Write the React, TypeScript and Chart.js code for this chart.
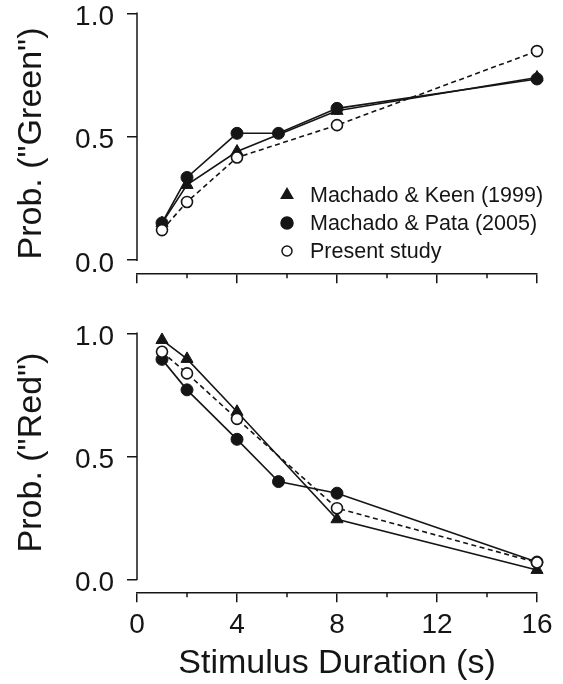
import React, { useEffect, useRef } from "react";
import { Chart, registerables } from "chart.js";

Chart.register(...registerables);

// ---------- data ----------
const seriesLabels = ["Machado & Keen (1999)", "Machado & Pata (2005)", "Present study"];

const keenDurations = [1, 2, 4, 8, 16];
const pataDurations = [1, 2, 4, 5.66, 8, 16];
const presentDurations = [1, 2, 4, 8, 16];

const greenKeen = [0.15, 0.305, 0.44, 0.605, 0.74];
const greenPata = [0.151, 0.335, 0.514, 0.514, 0.615, 0.734];
const greenPresent = [0.122, 0.236, 0.416, 0.547, 0.847];

const redKeen = [0.973, 0.896, 0.681, 0.244, 0.038];
const redPata = [0.894, 0.77, 0.569, 0.397, 0.35, 0.07];
const redPresent = [0.925, 0.837, 0.652, 0.289, 0.068];

const xMajorTicks = [0, 4, 8, 12, 16];
const xMinorTicks = [2, 6, 10, 14];
const yTicks = [0, 0.5, 1];

const xTitle = "Stimulus Duration (s)";
const greenTitle = 'Prob. ("Green")';
const redTitle = 'Prob. ("Red")';

// ---------- style ----------
const INK = "#151515";
const FONT = "'Liberation Sans', Arial, Helvetica, sans-serif";

function pts(xs: number[], ys: number[]) {
  return xs.map((x, i) => ({ x, y: ys[i] }));
}

function makeDatasets(keen: number[], pata: number[], present: number[]) {
  return [
    {
      label: seriesLabels[0],
      data: pts(keenDurations, keen),
      borderColor: INK,
      borderWidth: 1.6,
      pointStyle: "triangle",
      pointRadius: 7,
      pointBackgroundColor: INK,
      pointBorderColor: INK,
      pointBorderWidth: 1,
      order: 2,
      clip: false,
      tension: 0,
    },
    {
      label: seriesLabels[1],
      data: pts(pataDurations, pata),
      borderColor: INK,
      borderWidth: 1.6,
      pointStyle: "circle",
      pointRadius: 6,
      pointBackgroundColor: INK,
      pointBorderColor: INK,
      pointBorderWidth: 1,
      order: 1,
      clip: false,
      tension: 0,
    },
    {
      label: seriesLabels[2],
      data: pts(presentDurations, present),
      borderColor: INK,
      borderWidth: 1.6,
      borderDash: [5, 3.5],
      pointStyle: "circle",
      pointRadius: 5.5,
      pointBackgroundColor: "#ffffff",
      pointBorderColor: INK,
      pointBorderWidth: 1.6,
      order: 0,
      clip: false,
      tension: 0,
    },
  ];
}

const decorPlugin = {
  id: "panelDecor",
  afterDraw(chart: any, _args: any, opts: any) {
    const { ctx, chartArea, scales } = chart;
    const xs = scales.x;
    const ys = scales.y;
    ctx.save();
    ctx.strokeStyle = INK;
    ctx.fillStyle = INK;
    ctx.lineWidth = 1.5;
    ctx.setLineDash([]);

    // detached y axis line from first to last tick
    ctx.beginPath();
    ctx.moveTo(chartArea.left, ys.getPixelForValue(yTicks[yTicks.length - 1]) - 0.75);
    ctx.lineTo(chartArea.left, ys.getPixelForValue(yTicks[0]) + 0.75);
    ctx.stroke();

    // minor x ticks
    for (const v of xMinorTicks) {
      const px = xs.getPixelForValue(v);
      ctx.beginPath();
      ctx.moveTo(px, xs.top);
      ctx.lineTo(px, xs.top + 5);
      ctx.stroke();
    }

    // y title
    ctx.save();
    ctx.translate(opts.titleX, opts.titleY);
    ctx.rotate(-Math.PI / 2);
    ctx.font = `34px ${FONT}`;
    ctx.textAlign = "center";
    ctx.textBaseline = "middle";
    ctx.fillText(opts.title, 0, 0);
    ctx.restore();

    // legend
    if (opts.legend) {
      ctx.font = `21.5px ${FONT}`;
      ctx.textAlign = "left";
      ctx.textBaseline = "middle";
      chart.data.datasets.forEach((ds: any, i: number) => {
        const cy = opts.legendY + i * opts.legendRow;
        const cx = opts.legendX;
        ctx.beginPath();
        if (ds.pointStyle === "triangle") {
          const r = 8;
          ctx.moveTo(cx, cy - r);
          ctx.lineTo(cx + r * Math.sin((2 * Math.PI) / 3), cy - r * Math.cos((2 * Math.PI) / 3));
          ctx.lineTo(cx + r * Math.sin((4 * Math.PI) / 3), cy - r * Math.cos((4 * Math.PI) / 3));
          ctx.closePath();
          ctx.fillStyle = ds.pointBackgroundColor;
          ctx.fill();
        } else {
          ctx.arc(cx, cy, ds.pointBackgroundColor === "#ffffff" ? 5 : 6, 0, Math.PI * 2);
          ctx.fillStyle = ds.pointBackgroundColor;
          ctx.fill();
          ctx.lineWidth = 1.5;
          ctx.strokeStyle = INK;
          ctx.stroke();
        }
        ctx.fillStyle = INK;
        ctx.fillText(ds.label, opts.legendTextX, cy + 1);
      });
    }
    ctx.restore();
  },
};

type PanelOpts = {
  datasets: any[];
  title: string;
  titleY: number;
  showXLabels: boolean;
  xAxisHeight: number;
  padTop: number;
  legend: boolean;
};

function makeConfig(p: PanelOpts): any {
  return {
    type: "line",
    data: { datasets: p.datasets },
    plugins: [decorPlugin],
    options: {
      animation: false,
      responsive: false,
      events: [],
      layout: { padding: { top: p.padTop, right: 26, bottom: 0, left: 0 } },
      plugins: {
        legend: { display: false },
        tooltip: { enabled: false },
        panelDecor: {
          title: p.title,
          titleX: 32,
          titleY: p.titleY,
          legend: p.legend,
          legendX: 287,
          legendTextX: 310,
          legendY: 195,
          legendRow: 28,
        },
      },
      scales: {
        x: {
          type: "linear",
          min: 0,
          max: 16,
          afterBuildTicks: (s: any) => {
            s.ticks = xMajorTicks.map((v) => ({ value: v }));
          },
          afterFit: (s: any) => {
            s.height = p.xAxisHeight;
            s.paddingLeft = 0;
            s.paddingRight = 0;
          },
          ticks: {
            display: p.showXLabels,
            autoSkip: false,
            maxRotation: 0,
            padding: 6,
            color: INK,
            font: { family: FONT, size: 28 },
            callback: (v: any) => String(v),
          },
          grid: {
            display: true,
            drawOnChartArea: false,
            drawTicks: true,
            tickLength: 10,
            tickWidth: 1.5,
            color: INK,
            lineWidth: 1.5,
          },
          border: { display: true, color: INK, width: 1.5 },
          title: {
            display: p.showXLabels,
            text: xTitle,
            color: INK,
            font: { family: FONT, size: 34, lineHeight: 1 },
            padding: { top: 0, bottom: 3 },
          },
        },
        y: {
          type: "linear",
          min: -0.053,
          max: 1,
          afterBuildTicks: (s: any) => {
            s.ticks = yTicks.map((v) => ({ value: v }));
          },
          afterFit: (s: any) => {
            s.width = 137;
            s.paddingTop = 0;
            s.paddingBottom = 0;
          },
          ticks: {
            padding: 13,
            labelOffset: 4,
            color: INK,
            font: { family: FONT, size: 28 },
            callback: (v: any) => Number(v).toFixed(1),
          },
          grid: {
            display: true,
            drawOnChartArea: false,
            drawTicks: true,
            tickLength: 10,
            tickWidth: 1.5,
            color: INK,
            lineWidth: 1.5,
          },
          border: { display: false },
        },
      },
    },
  };
}

function Panel(props: { config: any; width: number; height: number; top: number }) {
  const ref = useRef<HTMLCanvasElement | null>(null);
  useEffect(() => {
    if (!ref.current) return;
    const chart = new Chart(ref.current, props.config);
    return () => chart.destroy();
  }, []);
  return (
    <canvas
      ref={ref}
      width={props.width}
      height={props.height}
      style={{ position: "absolute", left: 0, top: props.top, width: props.width, height: props.height }}
    />
  );
}

export default function App() {
  const topConfig = makeConfig({
    datasets: makeDatasets(greenKeen, greenPata, greenPresent),
    title: greenTitle,
    titleY: 143.5,
    showXLabels: false,
    xAxisHeight: 26.7,
    padTop: 13.3,
    legend: true,
  });
  const bottomConfig = makeConfig({
    datasets: makeDatasets(redKeen, redPata, redPresent),
    title: redTitle,
    titleY: 152.5,
    showXLabels: true,
    xAxisHeight: 91.7,
    padTop: 33.3,
    legend: false,
  });
  return (
    <div style={{ position: "absolute", left: 0, top: 0, width: 563, height: 684, background: "#ffffff" }}>
      <Panel config={topConfig} width={563} height={300} top={0} />
      <Panel config={bottomConfig} width={563} height={384} top={300} />
    </div>
  );
}
